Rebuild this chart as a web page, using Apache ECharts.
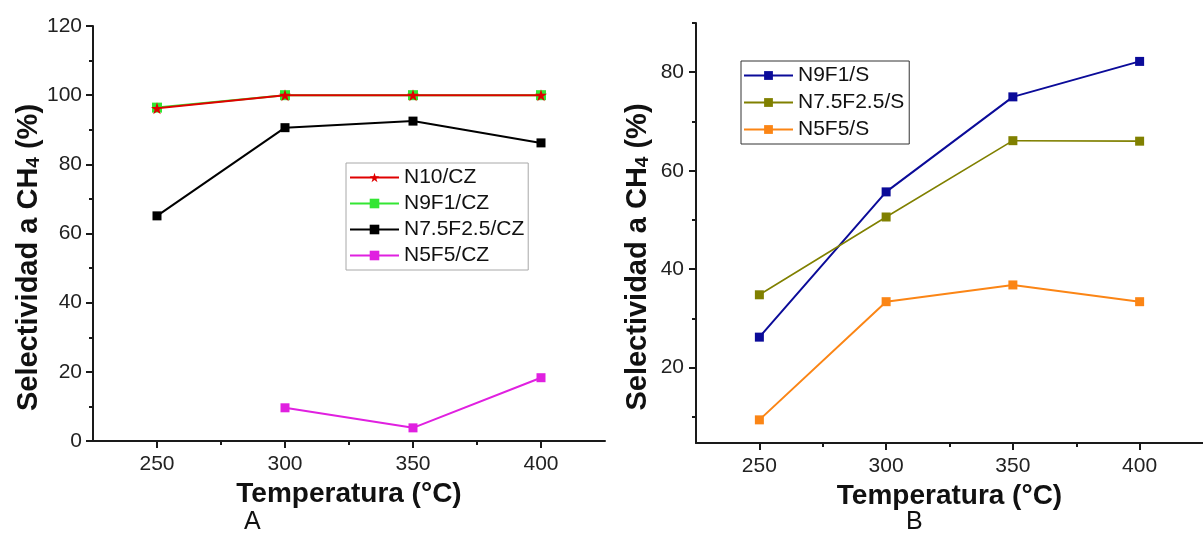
<!DOCTYPE html>
<html><head><meta charset="utf-8">
<script src="https://cdn.jsdelivr.net/npm/echarts@6/dist/echarts.min.js"></script>
<style>html,body{margin:0;padding:0;background:#fff}#c{width:1203px;height:556px}</style>
</head><body><div id="c"></div>
<script>
// ---- data ----
const temps = [250, 300, 350, 400];
const xTicks = [250, 300, 350, 400];
const xMinorTicks = [275, 325, 375];
const yTicksB = [20, 40, 60, 80];
const yMinorTicksB = [10, 30, 50, 70, 90];

const n10CZ = [96.2, 100, 100, 100];
const n9f1CZ = [96.4, 100, 100, 100];
const n75CZ = [65.1, 90.6, 92.5, 86.2];
const n5f5CZ = [null, 9.6, 3.8, 18.3];

const n9f1S = [26.2, 55.7, 75.0, 82.2];
const n75S = [34.8, 50.6, 66.1, 66.0];
const n5f5S = [9.4, 33.4, 36.8, 33.4];

const pairs = v => temps.map((t, i) => [t, v[i]]).filter(p => p[1] != null);

const FONT = 'Liberation Sans';
const AX = '#1a1a1a';
const STAR = 'path://M50,0 L61.2,34.5 L97.6,34.5 L68.2,55.9 L79.4,90.5 L50,69.1 L20.6,90.5 L31.8,55.9 L2.4,34.5 L38.8,34.5 Z';

const yName = 'Selectividad a CH{sub|4} (%)';
const nameStyle = {
  fontFamily: FONT, fontSize: 29, fontWeight: 'bold', color: '#111',
  padding: [0, 48, 0, 0],
  rich: { sub: { fontFamily: FONT, fontSize: 19, fontWeight: 'bold', color: '#111', verticalAlign: 'bottom' } }
};
const labelStyle = { fontFamily: FONT, fontSize: 21, color: '#222' };

function mainX(grid) {
  return {
    type: 'value', gridIndex: grid, position: 'bottom', min: 225, max: 425,
    axisLine: { show: true, lineStyle: { color: AX, width: 2 } },
    axisTick: { show: true, inside: false, length: 7, lineStyle: { color: AX, width: 2 }, customValues: xTicks },
    axisLabel: Object.assign({ margin: 13, customValues: xTicks }, labelStyle),
    splitLine: { show: false },
    name: 'Temperatura (°C)', nameLocation: 'middle', nameGap: 39,
    nameTextStyle: { fontFamily: FONT, fontSize: 28, fontWeight: 'bold', color: '#111' }
  };
}
function minorX(grid) {
  return {
    type: 'value', gridIndex: grid, position: 'bottom', min: 225, max: 425,
    axisLine: { show: false },
    axisTick: { show: true, inside: false, length: 4, lineStyle: { color: AX, width: 2 }, customValues: xMinorTicks },
    axisLabel: { show: false }, splitLine: { show: false }
  };
}

const option = {
  backgroundColor: '#fff',
  animation: false,
  grid: [
    { left: 93, right: 598, top: 26, bottom: 115 },
    { left: 696, right: -10, top: 23, bottom: 113 }
  ],
  xAxis: [mainX(0), minorX(0), mainX(1), minorX(1)],
  yAxis: [
    {
      type: 'value', gridIndex: 0, position: 'left', min: 0, max: 120, interval: 20,
      axisLine: { show: true, lineStyle: { color: AX, width: 2 } },
      axisTick: { show: true, inside: false, length: 7, lineStyle: { color: AX, width: 2 } },
      minorTick: { show: true, splitNumber: 2, length: 4, lineStyle: { color: AX, width: 2 } },
      axisLabel: Object.assign({ margin: 11 }, labelStyle),
      splitLine: { show: false }, minorSplitLine: { show: false },
      name: yName, nameLocation: 'middle', nameGap: 46, nameTextStyle: nameStyle
    },
    {
      type: 'value', gridIndex: 1, position: 'left', min: 4.7, max: 90,
      axisLine: { show: true, lineStyle: { color: AX, width: 2 } },
      axisTick: { show: true, inside: false, length: 7, lineStyle: { color: AX, width: 2 }, customValues: yTicksB },
      axisLabel: Object.assign({ margin: 12, customValues: yTicksB }, labelStyle),
      splitLine: { show: false },
      name: yName, nameLocation: 'middle', nameGap: 44, nameTextStyle: nameStyle
    },
    {
      type: 'value', gridIndex: 1, position: 'left', min: 4.7, max: 90,
      axisLine: { show: false },
      axisTick: { show: true, inside: false, length: 4, lineStyle: { color: AX, width: 2 }, customValues: yMinorTicksB },
      axisLabel: { show: false }, splitLine: { show: false }
    }
  ],
  legend: [
    {
      data: ['N10/CZ', 'N9F1/CZ', 'N7.5F2.5/CZ', 'N5F5/CZ'],
      orient: 'vertical', left: 346, top: 163, itemWidth: 49, itemHeight: 12, itemGap: 5,
      padding: [4, 4, 4, 3], borderColor: '#a8a8a8', borderWidth: 1,
      textStyle: { fontFamily: FONT, fontSize: 21, color: '#111' }
    },
    {
      data: ['N9F1/S', 'N7.5F2.5/S', 'N5F5/S'],
      orient: 'vertical', left: 741, top: 61, itemWidth: 49, itemHeight: 11, itemGap: 6,
      padding: [4, 5, 4, 2], borderColor: '#333', borderWidth: 1,
      textStyle: { fontFamily: FONT, fontSize: 21, color: '#111' }
    }
  ],
  graphic: [
    { type: 'text', left: 244, top: 510, style: { text: 'A', fontFamily: FONT, fontSize: 25, fill: '#111' } },
    { type: 'text', left: 906, top: 510, style: { text: 'B', fontFamily: FONT, fontSize: 25, fill: '#111' } }
  ],
  series: [
    { name: 'N10/CZ', type: 'line', xAxisIndex: 0, yAxisIndex: 0, data: pairs(n10CZ), z: 4,
      symbol: STAR, symbolSize: 12, color: '#e00000', lineStyle: { width: 2, color: '#e00000' },
      itemStyle: { color: '#e00000' } },
    { name: 'N9F1/CZ', type: 'line', xAxisIndex: 0, yAxisIndex: 0, data: pairs(n9f1CZ), z: 3,
      symbol: 'rect', symbolSize: 10, color: '#33e633', lineStyle: { width: 2, color: '#33e633' },
      itemStyle: { color: '#33e633' } },
    { name: 'N7.5F2.5/CZ', type: 'line', xAxisIndex: 0, yAxisIndex: 0, data: pairs(n75CZ), z: 2,
      symbol: 'rect', symbolSize: 9, color: '#000', lineStyle: { width: 2, color: '#000' },
      itemStyle: { color: '#000' } },
    { name: 'N5F5/CZ', type: 'line', xAxisIndex: 0, yAxisIndex: 0, data: pairs(n5f5CZ), z: 2,
      symbol: 'rect', symbolSize: 9, color: '#e020e0', lineStyle: { width: 2, color: '#e020e0' },
      itemStyle: { color: '#e020e0' } },
    { name: 'N9F1/S', type: 'line', xAxisIndex: 2, yAxisIndex: 1, data: pairs(n9f1S), z: 2,
      symbol: 'rect', symbolSize: 9, color: '#0b0b99', lineStyle: { width: 2, color: '#0b0b99' },
      itemStyle: { color: '#0b0b99' } },
    { name: 'N7.5F2.5/S', type: 'line', xAxisIndex: 2, yAxisIndex: 1, data: pairs(n75S), z: 2,
      symbol: 'rect', symbolSize: 9, color: '#808000', lineStyle: { width: 1.6, color: '#808000' },
      itemStyle: { color: '#808000' } },
    { name: 'N5F5/S', type: 'line', xAxisIndex: 2, yAxisIndex: 1, data: pairs(n5f5S), z: 2,
      symbol: 'rect', symbolSize: 9, color: '#fb8515', lineStyle: { width: 2, color: '#fb8515' },
      itemStyle: { color: '#fb8515' } }
  ]
};
const chart = echarts.init(document.getElementById('c'), null, { renderer: 'canvas' });
chart.setOption(option);
</script></body></html>
